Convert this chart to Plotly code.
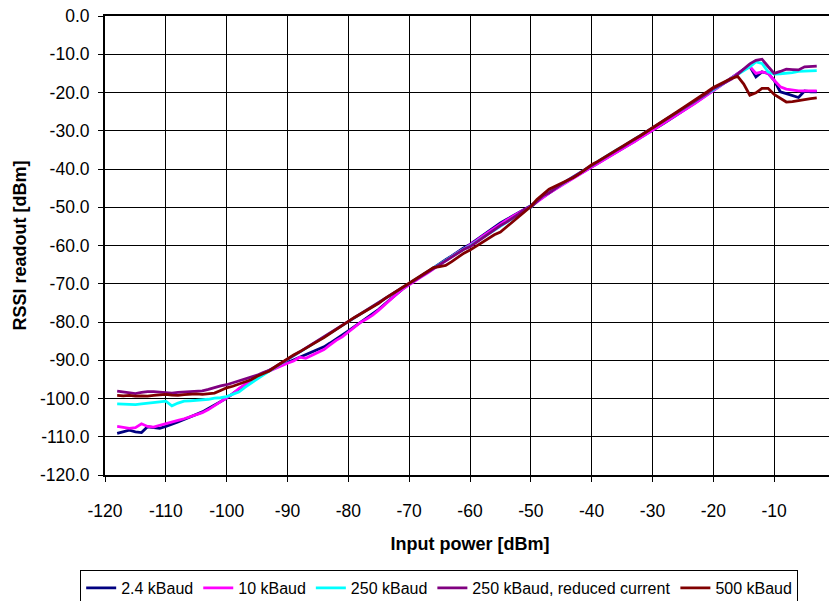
import plotly.graph_objects as go

# Input power sweep [dBm]
input_power = list(range(-118, -2))  # -118 ... -3

rssi_2k4 = [
    -109.1, -108.8, -108.3, -108.7, -108.9, -107.4, -107.6, -107.8, -107.3, -106.6,
    -106.1, -105.5, -104.9, -104.3, -103.5, -102.6, -101.7, -100.9, -99.9, -98.7,
    -97.6, -96.4, -95.3, -94.3, -93.4, -92.6, -91.8, -91.2, -90.6, -89.9,
    -89.2, -88.6, -88.0, -87.3, -86.5, -85.5, -84.5, -83.4, -82.3, -81.2,
    -80.1, -79.0, -77.9, -76.7, -75.3, -73.9, -72.6, -71.3, -70.1, -69.0,
    -68.0, -67.0, -65.9, -64.8, -63.7, -62.7, -61.6, -60.6, -59.7, -58.6,
    -57.4, -56.2, -55.1, -54.1, -53.2, -52.3, -51.3, -50.4, -49.6, -48.4,
    -47.3, -46.2, -45.2, -44.2, -43.2, -42.3, -41.3, -40.3, -39.4, -38.5,
    -37.5, -36.6, -35.6, -34.7, -33.7, -32.8, -31.8, -30.9, -29.9, -28.9,
    -27.9, -26.9, -25.9, -24.9, -23.8, -22.7, -21.6, -20.5, -19.4, -18.3,
    -17.2, -16.1, -15.0, -14.0, -13.2, -15.9, -14.6, -15.0, -16.8, -19.8,
    -20.3, -20.7, -21.3, -19.6, -19.8, -19.8,
]

rssi_10k = [
    -107.3, -107.6, -107.8, -107.6, -106.6, -107.3, -107.5, -107.0, -106.5, -106.1,
    -105.7, -105.3, -104.8, -104.2, -103.7, -102.9, -101.9, -100.9, -99.8, -98.8,
    -97.4, -96.3, -95.2, -94.2, -93.5, -92.8, -92.0, -91.4, -90.8, -90.2,
    -89.2, -89.5, -88.8, -88.1, -87.2, -86.0, -84.8, -83.9, -82.6, -81.3,
    -80.1, -79.2, -78.2, -76.9, -75.4, -74.0, -72.6, -71.3, -70.2, -69.1,
    -68.2, -67.2, -66.1, -65.0, -63.9, -62.9, -61.8, -60.9, -59.9, -58.8,
    -57.6, -56.5, -55.4, -54.4, -53.4, -52.4, -51.4, -50.6, -49.8, -48.6,
    -47.4, -46.3, -45.3, -44.3, -43.3, -42.4, -41.4, -40.4, -39.5, -38.6,
    -37.6, -36.7, -35.7, -34.8, -33.8, -32.9, -31.9, -31.0, -30.0, -29.0,
    -28.0, -27.0, -26.0, -25.0, -23.9, -22.8, -21.7, -20.6, -19.5, -18.3,
    -17.2, -16.1, -15.0, -14.0, -13.2, -15.0, -14.6, -15.0, -16.8, -18.5,
    -19.1, -19.3, -19.6, -19.6, -19.6, -19.6,
]

rssi_250k = [
    -101.4, -101.5, -101.6, -101.6, -101.4, -101.3, -101.1, -100.9, -100.7, -101.9,
    -101.2, -100.7, -100.6, -100.5, -100.4, -100.2, -99.9, -99.8, -99.5, -99.0,
    -98.3, -97.1, -95.9, -94.9, -93.9, -92.8, -91.8, -90.8, -89.8, -88.9,
    -87.9, -86.9, -85.9, -84.9, -83.9, -82.9, -81.9, -80.8, -79.8, -78.9,
    -77.9, -76.9, -75.9, -74.9, -73.9, -72.9, -71.9, -70.9, -70.0, -69.0,
    -68.0, -67.0, -66.0, -64.9, -63.9, -62.9, -61.9, -60.9, -60.1, -59.1,
    -58.0, -57.0, -55.9, -54.9, -53.9, -52.9, -51.9, -50.8, -50.0, -48.4,
    -47.0, -46.0, -45.0, -43.9, -42.9, -41.9, -40.9, -39.9, -38.9, -37.9,
    -37.0, -36.0, -35.1, -34.2, -33.2, -32.3, -31.3, -30.3, -29.3, -28.3,
    -27.3, -26.3, -25.3, -24.3, -23.3, -22.3, -21.3, -20.3, -19.2, -18.2,
    -17.3, -16.3, -15.3, -14.3, -13.3, -12.0, -12.4, -14.6, -15.2, -15.1,
    -15.0, -14.8, -14.5, -14.4, -14.3, -14.3,
]

rssi_250k_rc = [
    -98.1, -98.3, -98.6, -98.7, -98.4, -98.2, -98.2, -98.4, -98.5, -98.6,
    -98.4, -98.3, -98.3, -98.2, -98.0, -97.6, -97.1, -96.7, -96.4, -95.9,
    -95.5, -95.0, -94.5, -93.9, -93.2, -92.6, -91.7, -90.8, -89.8, -88.8,
    -87.8, -86.8, -85.8, -84.8, -83.9, -82.8, -81.9, -80.8, -79.9, -78.9,
    -77.9, -76.9, -75.9, -75.0, -73.9, -72.9, -71.9, -70.9, -70.0, -69.0,
    -68.0, -67.0, -66.0, -64.8, -63.9, -62.9, -61.9, -61.0, -60.3, -59.2,
    -58.0, -56.9, -55.8, -54.8, -53.9, -52.9, -51.8, -50.5, -50.0, -48.5,
    -47.0, -46.2, -45.0, -44.0, -43.0, -42.0, -41.0, -40.0, -39.0, -38.0,
    -37.1, -36.1, -35.2, -34.3, -33.3, -32.4, -31.4, -30.4, -29.4, -28.4,
    -27.4, -26.4, -25.4, -24.4, -23.3, -22.3, -21.2, -20.2, -19.0, -18.2,
    -17.4, -16.5, -15.2, -13.8, -12.5, -11.6, -11.3, -13.2, -15.0, -14.5,
    -13.9, -14.0, -14.1, -13.3, -13.2, -13.1,
]

rssi_500k = [
    -99.2, -99.3, -99.2, -99.4, -99.3, -99.4, -99.2, -99.0, -98.9, -99.1,
    -99.2, -99.0, -98.9, -98.8, -98.9, -98.8, -98.6, -97.9, -97.2, -96.8,
    -96.3, -95.8, -95.1, -94.2, -93.6, -92.8, -91.7, -90.6, -89.5, -88.6,
    -87.8, -86.8, -85.9, -85.0, -84.1, -83.0, -81.9, -80.9, -79.9, -78.8,
    -77.9, -77.0, -76.0, -75.1, -73.9, -72.9, -71.8, -70.9, -69.9, -68.9,
    -67.8, -66.8, -65.8, -65.5, -65.2, -64.2, -63.0, -62.0, -61.2, -60.2,
    -59.2, -58.0, -57.2, -56.5, -55.2, -53.9, -52.6, -51.2, -49.8, -48.0,
    -46.6, -45.3, -44.5, -43.8, -43.0, -42.2, -41.2, -40.0, -38.9, -38.0,
    -37.0, -36.0, -35.1, -34.1, -33.2, -32.2, -31.3, -30.3, -29.3, -28.2,
    -27.2, -26.1, -25.1, -24.0, -23.0, -21.9, -20.9, -19.8, -18.7, -17.9,
    -17.1, -16.3, -15.8, -17.8, -20.7, -20.1, -18.9, -18.9, -20.5, -21.6,
    -22.5, -22.4, -22.1, -21.8, -21.6, -21.4,
]

series_names = ["2.4 kBaud", "10 kBaud", "250 kBaud", "250 kBaud, reduced current", "500 kBaud"]
series_colors = ["#000080", "#FF00FF", "#00FFFF", "#800080", "#800000"]
series_values = [rssi_2k4, rssi_10k, rssi_250k, rssi_250k_rc, rssi_500k]

x_tick_vals = [-120, -110, -100, -90, -80, -70, -60, -50, -40, -30, -20, -10, 0]
x_tick_labels = ["-120", "-110", "-100", "-90", "-80", "-70", "-60", "-50", "-40", "-30", "-20", "-10", "0"]
y_tick_vals = [0, -10, -20, -30, -40, -50, -60, -70, -80, -90, -100, -110, -120]
y_tick_labels = ["0.0", "-10.0", "-20.0", "-30.0", "-40.0", "-50.0", "-60.0", "-70.0", "-80.0",
                 "-90.0", "-100.0", "-110.0", "-120.0"]

FONT = "Liberation Sans, Arial, Helvetica, sans-serif"

fig = go.Figure()
for name, color, vals in zip(series_names, series_colors, series_values):
    fig.add_trace(go.Scatter(x=input_power, y=vals, mode="lines", name=name,
                             line=dict(color=color, width=2.8)))

axis_common = dict(
    showline=True, linecolor="black", linewidth=2, mirror=True,
    showgrid=True, gridcolor="black", gridwidth=1,
    zeroline=False, ticks="outside", ticklen=5, tickwidth=1, tickcolor="black",
    tickfont=dict(family=FONT, size=17.5, color="black"),
    ticklabeloverflow="allow",
)

# the page body adds an 8px offset, so the figure is 8px smaller on each side
fig.update_layout(
    width=829, height=593,
    margin=dict(l=97, r=2, t=8, b=126, autoexpand=False),
    paper_bgcolor="white", plot_bgcolor="white",
    font=dict(family=FONT, color="black"),
    xaxis=dict(range=[-120, 0], tickmode="array", tickvals=x_tick_vals, ticktext=x_tick_labels,
               ticklabelstandoff=14,
               title=dict(text="Input power [dBm]", font=dict(family=FONT, size=18, weight="bold"),
                          standoff=17),
               automargin=False, **axis_common),
    yaxis=dict(range=[-120, 0], tickmode="array", tickvals=y_tick_vals, ticktext=y_tick_labels,
               ticklabelstandoff=5,
               title=dict(text="RSSI readout [dBm]", font=dict(family=FONT, size=18, weight="bold"),
                          standoff=9),
               automargin=False, **axis_common),
    showlegend=True,
    legend=dict(orientation="h", x=-0.034, xanchor="left", y=-0.207, yanchor="top",
                font=dict(family=FONT, size=16, color="black"),
                bordercolor="black", borderwidth=1, bgcolor="white",
                itemwidth=30),
)

fig.write_html("out.html")
